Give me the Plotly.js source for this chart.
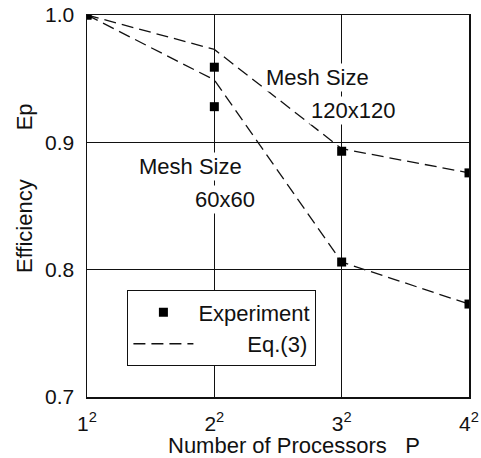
<!DOCTYPE html>
<html><head><meta charset="utf-8">
<script src="https://cdn.plot.ly/plotly-3.0.1.min.js"></script>
<style>body{margin:0;background:#fff}#c{width:481px;height:458px}</style>
</head><body><div id="c"></div>
<script>
const procIdx = [1, 2, 3, 4];
const tickLabels = ['1<sup>2</sup>', '2<sup>2</sup>', '3<sup>2</sup>', '4<sup>2</sup>'];
const exp60 = [1.0, 0.928, 0.806, 0.773];
const exp120 = [1.0, 0.959, 0.893, 0.876];
const eq60 = [1.0, 0.949, 0.806, 0.773];
const eq120 = [1.0, 0.973, 0.895, 0.876];

const font = 'Liberation Sans, Arial, sans-serif';
const dash = '12px,6px';
const nb = '\u00a0';
const traces = [
  {x: procIdx, y: eq120, mode: 'lines', name: 'Eq.(3)', showlegend: false, legendrank: 2,
   line: {color: '#111', width: 1.3, dash: dash}},
  {x: procIdx, y: eq60, mode: 'lines', name: nb.repeat(8) + 'Eq.(3)', legendrank: 2,
   line: {color: '#111', width: 1.3, dash: dash}},
  {x: procIdx.concat(procIdx), y: exp60.concat(exp120), mode: 'markers', name: 'Experiment', legendrank: 1,
   marker: {symbol: 'square', size: 9, color: '#000'}}
];
const layout = {
  width: 481, height: 458,
  margin: {l: 87, r: 12, t: 15, b: 61},
  paper_bgcolor: '#fff', plot_bgcolor: '#fff',
  font: {family: font, color: '#111', size: 22},
  showlegend: true,
  legend: {x: 0.105, y: 0.28, xanchor: 'left', yanchor: 'top', bgcolor: '#fff',
    bordercolor: '#111', borderwidth: 1.3, itemwidth: 60, font: {size: 22},
    tracegroupgap: 2},
  xaxis: {range: [1, 4], tickvals: procIdx, ticktext: tickLabels, ticks: '',
    showgrid: true, gridcolor: '#111', gridwidth: 1, zeroline: false,
    showline: true, linecolor: '#111', linewidth: 1.5, mirror: true,
    ticklabelstandoff: 7, tickfont: {size: 21}, automargin: false},
  yaxis: {range: [0.7, 1.0], tickvals: [0.7, 0.8, 0.9, 1.0], ticktext: ['0.7', '0.8', '0.9', '1.0'],
    ticks: '', showgrid: true, gridcolor: '#111', gridwidth: 1, zeroline: false,
    showline: true, linecolor: '#111', linewidth: 1.5, mirror: true,
    ticklabelstandoff: 7, tickfont: {size: 21}, automargin: false},
  annotations: [
    {xref: 'paper', yref: 'paper', x: 0.542, y: -0.126, xanchor: 'center', yanchor: 'middle',
     text: 'Number of Processors' + nb.repeat(3) + 'P', showarrow: false, font: {size: 22}},
    {xref: 'paper', yref: 'paper', x: -0.165, y: 0.547, xanchor: 'center', yanchor: 'middle',
     text: 'Efficiency' + nb.repeat(8) + 'Ep', textangle: -90, showarrow: false, font: {size: 22}},
    {x: 2.807, y: 0.951, text: 'Mesh Size', showarrow: false, bgcolor: '#fff', font: {size: 22}},
    {x: 3.09, y: 0.925, text: '120x120', showarrow: false, bgcolor: '#fff', font: {size: 22}},
    {x: 1.81, y: 0.881, text: 'Mesh Size', showarrow: false, bgcolor: '#fff', font: {size: 22}},
    {x: 2.084, y: 0.855, text: '60x60', showarrow: false, bgcolor: '#fff', font: {size: 22}}
  ]
};
Plotly.newPlot('c', traces, layout, {displayModeBar: false, staticPlot: true});
</script></body></html>
